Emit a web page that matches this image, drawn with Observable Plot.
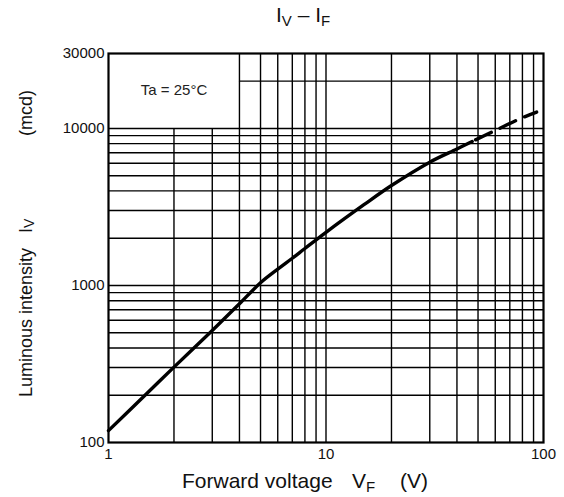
<!DOCTYPE html>
<html>
<head>
<meta charset="utf-8">
<script src="https://cdn.jsdelivr.net/npm/d3@7"></script>
<script src="https://cdn.jsdelivr.net/npm/@observablehq/plot@0.6"></script>
<style>
  html, body { margin: 0; padding: 0; background: #fff; }
  svg { font-family: "Liberation Sans", Arial, sans-serif; }
</style>
</head>
<body>
<div id="chart"></div>
<script>
// ---- data ----
const solidVF = [1, 1.5, 2, 3, 4, 5, 6, 7, 8, 10, 15, 20, 30, 40, 47];
const solidIV = [119, 205, 302, 517, 764, 1040, 1270, 1490, 1720, 2180, 3280, 4330, 6100, 7400, 8260];
const dashVF = [47, 60, 80, 93];
const dashIV = [8260, 9700, 11700, 12700];

const xTicks = [1, 10, 100];
const yTicks = [100, 1000, 10000, 30000];

// grid lines
const vGridShort = [2, 3];                                   // stop at 10000
const vGridTall = [4, 5, 6, 7, 8, 9, 10, 20, 30, 40, 50, 60, 70, 80, 90];
const hGridFull = [200, 300, 400, 500, 600, 700, 800, 900, 1000,
                   2000, 3000, 4000, 5000, 6000, 7000, 8000, 9000, 10000];
const hGridPart = [20000];                                   // starts at x = 4
const boxCornerX = 4;
const boxCornerY = 10000;

const noteText = "Ta = 25°C";
const noteX = 2.0, noteY = 17500;

const solid = solidVF.map((v, i) => ({vf: v, iv: solidIV[i]}));
const dashed = dashVF.map((v, i) => ({vf: v, iv: dashIV[i]}));

const gridW = 1.4;
const plot = Plot.plot({
  width: 564,
  height: 497,
  marginLeft: 108,
  marginRight: 21,
  marginTop: 53,
  marginBottom: 55,
  style: {fontFamily: '"Liberation Sans", Arial, sans-serif', background: "#fff", color: "#000"},
  x: {type: "log", domain: [1, 100]},
  y: {type: "log", domain: [100, 30000]},
  marks: [
    Plot.ruleX(vGridShort, {x: d => d, y1: 100, y2: boxCornerY, stroke: "#000", strokeWidth: gridW}),
    Plot.ruleX(vGridTall, {x: d => d, y1: 100, y2: 30000, stroke: "#000", strokeWidth: gridW}),
    Plot.ruleY(hGridFull, {y: d => d, x1: 1, x2: 100, stroke: "#000", strokeWidth: gridW}),
    Plot.ruleY(hGridPart, {y: d => d, x1: boxCornerX, x2: 100, stroke: "#000", strokeWidth: gridW}),
    Plot.frame({stroke: "#000", strokeWidth: 2.2}),
    Plot.line(solid, {x: "vf", y: "iv", stroke: "#000", strokeWidth: 3.4, curve: "catmull-rom"}),
    Plot.line(dashed, {x: "vf", y: "iv", stroke: "#000", strokeWidth: 3.4, curve: "catmull-rom", strokeDasharray: "17,10", strokeDashoffset: -4}),
    Plot.text([noteText], {x: () => noteX, y: () => noteY, text: d => d, fontSize: 15, fill: "#222", textAnchor: "middle"}),
    Plot.axisX({ticks: xTicks, tickSize: 0, tickPadding: 6, fontSize: 15, tickFormat: d => String(d), label: null, fill: "#111"}),
    Plot.axisY({ticks: yTicks, tickSize: 0, tickPadding: 4, fontSize: 15, tickFormat: d => String(d), label: null, fill: "#111"})
  ]
});
document.getElementById("chart").appendChild(plot);

// ---- titles / axis labels with subscripts ----
const svg = d3.select(plot);
const ff = '"Liberation Sans", Arial, sans-serif';
const g = svg.append("g").attr("font-family", ff).attr("fill", "#111").attr("text-anchor", "start");

// title  I_V – I_F
const title = g.append("text").attr("x", 276).attr("y", 22).attr("font-size", 21);
title.append("tspan").text("I");
title.append("tspan").attr("font-size", 15).attr("dy", 4).text("V");
title.append("tspan").attr("dy", -4).text(" – I");
title.append("tspan").attr("font-size", 15).attr("dy", 4).text("F");

// x label
g.append("text").attr("x", 182).attr("y", 488).attr("font-size", 21).text("Forward voltage");
const vf = g.append("text").attr("x", 352).attr("y", 488).attr("font-size", 21);
vf.append("tspan").text("V");
vf.append("tspan").attr("font-size", 15).attr("dy", 4).text("F");
g.append("text").attr("x", 400).attr("y", 488).attr("font-size", 21).text("(V)");

// y label (rotated)
g.append("text").attr("transform", "translate(32,397) rotate(-90)").attr("font-size", 18).text("Luminous intensity");
const iv = g.append("text").attr("transform", "translate(32,233) rotate(-90)").attr("font-size", 18);
iv.append("tspan").text("I");
iv.append("tspan").attr("font-size", 14).attr("dy", 2).text("V");
g.append("text").attr("transform", "translate(32,136) rotate(-90)").attr("font-size", 18).text("(mcd)");
</script>
</body>
</html>
